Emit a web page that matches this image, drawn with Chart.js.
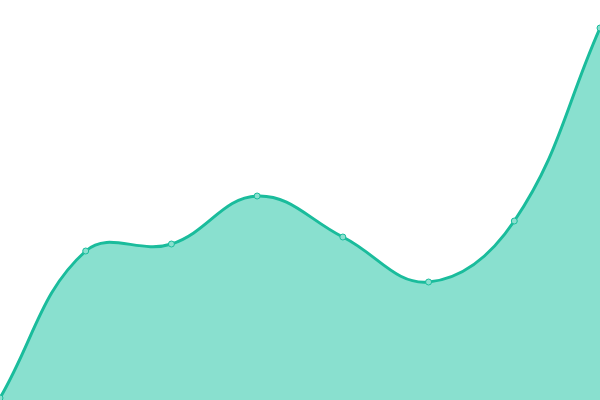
<!DOCTYPE html>
<html lang="en">
<head>
    <meta charset="UTF-8">
    <title>Area Chart</title>
    <script src="https://cdn.jsdelivr.net/npm/chart.js"></script>
    <style>
        html, body { margin: 0; padding: 0; background: #fff; }
        .wrap { position: relative; width: 600px; height: 400px; }
    </style>
</head>
<body>
    <div class="wrap">
        <canvas id="area-chart"></canvas>
    </div>
    <script>
        // values
        const labels = ['1', '2', '3', '4', '5', '6', '7', '8'];
        const values = [2, 149, 156, 204, 163, 118, 179, 372];
        const yMin = 0;
        const yMax = 400;

        const ctx = document.getElementById('area-chart').getContext('2d');
        new Chart(ctx, {
            type: 'line',
            data: {
                labels: labels,
                datasets: [{
                    data: values,
                    borderColor: '#1abc9c',
                    backgroundColor: 'rgba(20, 194, 159, 0.5)',
                    borderWidth: 3,
                    fill: true,
                    tension: 0.4,
                    pointRadius: 3,
                    pointBorderWidth: 1,
                    pointBackgroundColor: '#8ae0cf',
                    pointBorderColor: '#1abc9c'
                }]
            },
            options: {
                responsive: true,
                maintainAspectRatio: false,
                animation: false,
                layout: { padding: 0, autoPadding: false },
                plugins: {
                    legend: { display: false },
                    tooltip: { enabled: false }
                },
                scales: {
                    x: { display: false },
                    y: { display: false, min: yMin, max: yMax }
                }
            }
        });
    </script>
</body>
</html>
